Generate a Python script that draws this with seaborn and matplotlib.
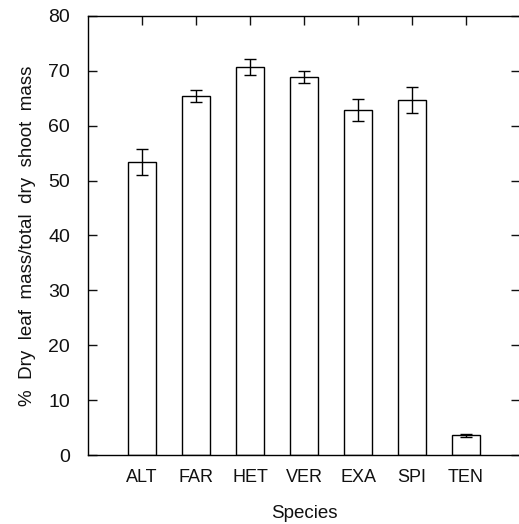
import matplotlib
matplotlib.use('Agg')

import pandas as pd
import matplotlib.pyplot as plt
import seaborn as sns

# Values
species = ['ALT', 'FAR', 'HET', 'VER', 'EXA', 'SPI', 'TEN']
leaf_pct = [53.4, 65.4, 70.7, 68.9, 62.8, 64.7, 3.6]
leaf_err = [2.3, 1.1, 1.5, 1.15, 2.0, 2.3, 0.3]

df = pd.DataFrame({'Species': species, 'Leaf': leaf_pct, 'Err': leaf_err})

sns.set_style('white')
plt.rcParams['font.family'] = ['Liberation Sans', 'DejaVu Sans']
plt.rcParams['axes.linewidth'] = 1.0

fig = plt.figure(figsize=(5.19, 5.24), dpi=100)
# right spine sits just past the image edge, as in the scanned original
ax = fig.add_axes([88 / 519, 69 / 524, 432 / 519, 439 / 524])

sns.barplot(data=df, x='Species', y='Leaf', order=species, color='white',
            edgecolor='black', linewidth=1.0, width=0.52, errorbar=None, ax=ax)
ax.errorbar(range(len(species)), df['Leaf'], yerr=df['Err'], fmt='none',
            ecolor='black', elinewidth=1.0, capsize=4.5, capthick=1.0)

ax.set_xlim(-1, 7)
ax.set_ylim(0, 80)
ax.set_yticks(range(0, 81, 10))
ax.set_xticks(range(len(species)))
ax.set_xticklabels(species)

for s in ax.spines.values():
    s.set_visible(True)
    s.set_color('black')
    s.set_linewidth(1.0)

ax.tick_params(direction='in', length=6.5, width=1.0, colors='#111111',
               top=True, right=True, bottom=True, left=True,
               labeltop=False, labelright=False)
ax.tick_params(axis='x', pad=10, labelsize=13)
ax.tick_params(axis='y', pad=13, labelsize=14)

ax.set_xlabel('Species', fontsize=13.5, labelpad=14, color='#111111')
ax.set_ylabel('%  Dry  leaf  mass/total  dry  shoot  mass', fontsize=13.5,
              labelpad=9, color='#111111')

plt.savefig('out.png', dpi=100)
